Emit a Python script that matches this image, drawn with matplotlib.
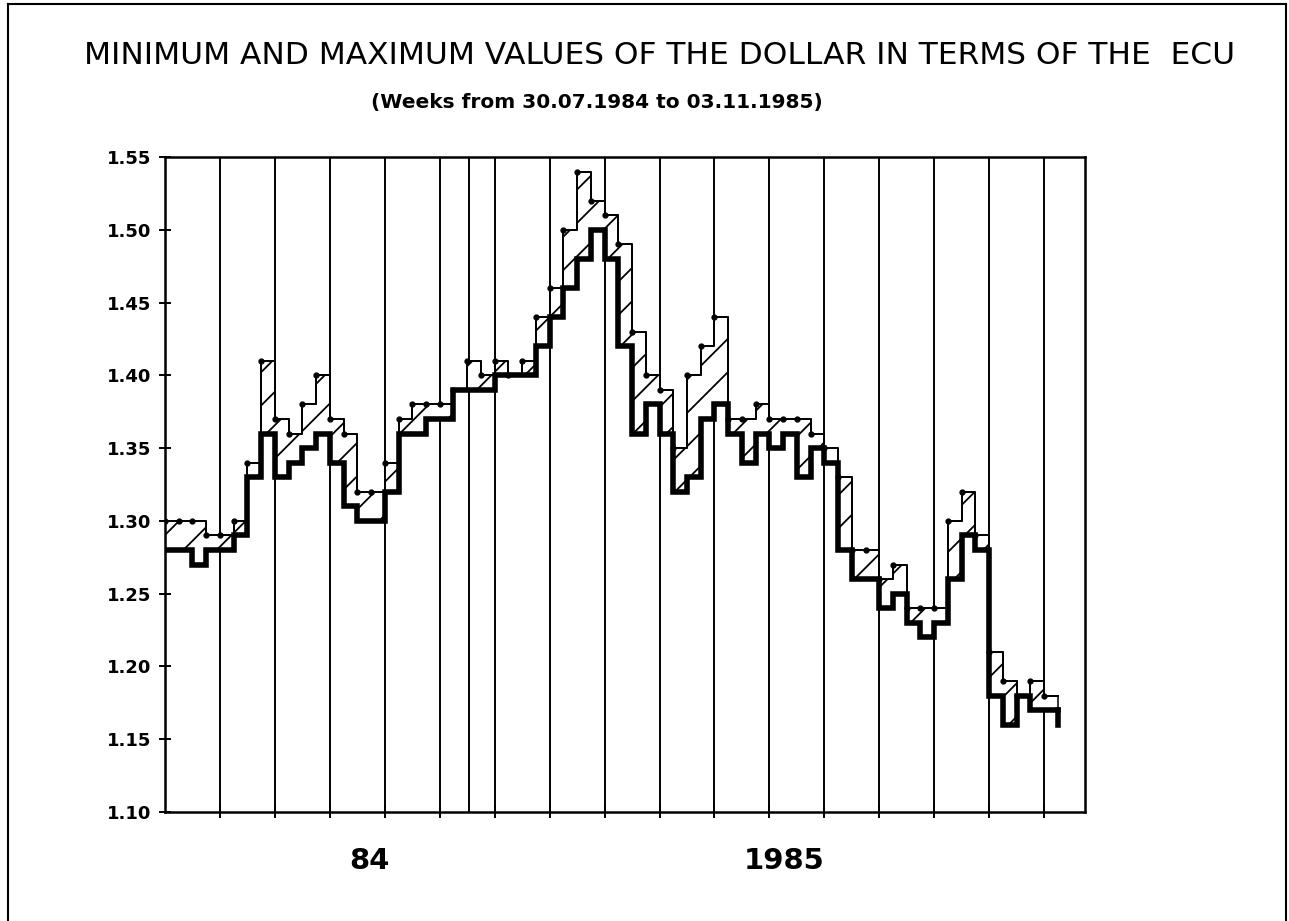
import datetime as dt
import numpy as np
import matplotlib
matplotlib.use('Agg')
import matplotlib.pyplot as plt
from matplotlib.lines import Line2D

# weekly max / min of USD in ECU, weeks starting 30.07.1984
weekly_max = [1.30, 1.30, 1.30, 1.29, 1.29, 1.30, 1.34, 1.41, 1.37, 1.36,
              1.38, 1.40, 1.37, 1.36, 1.32, 1.32, 1.34, 1.37, 1.38, 1.38,
              1.38, 1.39, 1.41, 1.40, 1.41, 1.40, 1.41, 1.44, 1.46, 1.50,
              1.54, 1.52, 1.51, 1.49, 1.43, 1.40, 1.39, 1.35, 1.40, 1.42,
              1.44, 1.37, 1.37, 1.38, 1.37, 1.37, 1.37, 1.36, 1.35, 1.33,
              1.28, 1.28, 1.26, 1.27, 1.24, 1.24, 1.24, 1.30, 1.32, 1.29,
              1.21, 1.19, 1.18, 1.19, 1.18]
weekly_min = [1.28, 1.28, 1.27, 1.28, 1.28, 1.29, 1.33, 1.36, 1.33, 1.34,
              1.35, 1.36, 1.34, 1.31, 1.30, 1.30, 1.32, 1.36, 1.36, 1.37,
              1.37, 1.39, 1.39, 1.39, 1.40, 1.40, 1.40, 1.42, 1.44, 1.46,
              1.48, 1.50, 1.48, 1.42, 1.36, 1.38, 1.36, 1.32, 1.33, 1.37,
              1.38, 1.36, 1.34, 1.36, 1.35, 1.36, 1.33, 1.35, 1.34, 1.28,
              1.26, 1.26, 1.24, 1.25, 1.23, 1.22, 1.23, 1.26, 1.29, 1.28,
              1.18, 1.16, 1.18, 1.17, 1.17]
last_low = 1.16
y_ticks = [1.10, 1.15, 1.20, 1.25, 1.30, 1.35, 1.40, 1.45, 1.50, 1.55]
year_labels = ['84', '1985']
start = dt.date(1984, 7, 30)
year_end_week = (dt.date(1985, 1, 1) - start).days / 7

n = len(weekly_max)
edges = np.arange(n + 1)
hi = np.append(weekly_max, weekly_max[-1])
lo = np.append(weekly_min, weekly_min[-1])

plt.rcParams['hatch.linewidth'] = 1.3
fig = plt.figure(figsize=(12.89, 9.21), dpi=100)
ax = fig.add_axes([0.128, 0.1184, 0.714, 0.7111])

# grid lines every 4 weeks plus the year change
for x in list(range(4, n, 4)) + [year_end_week]:
    ax.axvline(x, color='black', lw=1.4, zorder=1)

ax.fill_between(edges, lo, hi, step='post', facecolor='white',
                edgecolor='black', hatch='/', lw=1.1, zorder=2)
ax.step(edges, hi, where='post', color='black', lw=1.4, zorder=3)
ax.plot(edges[:-1], weekly_max, 'o', color='black', ms=3.5, zorder=4)
ax.step(edges, lo, where='post', color='black', lw=4.0, zorder=5,
        solid_joinstyle='miter')
ax.plot([n, n], [weekly_min[-1], last_low], color='black', lw=4.0, zorder=5)

ax.set_xlim(0, 67)
ax.set_ylim(1.10, 1.55)
ax.set_yticks(y_ticks)
ax.set_yticklabels(['%.2f' % v for v in y_ticks], fontsize=13,
                   fontweight='bold')
ax.set_xticks(list(range(4, n, 4)))
ax.set_xticklabels([])
ax.tick_params(axis='both', direction='inout', length=8, width=1.4)
ax.tick_params(axis='y', pad=6)
for s in ax.spines.values():
    s.set_linewidth(1.8)

ax.text(14.9, -0.075, year_labels[0], transform=ax.get_xaxis_transform(),
        ha='center', va='center', fontsize=21, fontweight='bold')
ax.text(45.1, -0.075, year_labels[1], transform=ax.get_xaxis_transform(),
        ha='center', va='center', fontsize=21, fontweight='bold')

fig.text(0.512, 0.94, 'MINIMUM AND MAXIMUM VALUES OF THE DOLLAR IN TERMS OF THE  ECU',
         ha='center', va='center', fontsize=22.5)
fig.text(0.463, 0.889, '(Weeks from 30.07.1984 to 03.11.1985)',
         ha='center', va='center', fontsize=14.5, fontweight='bold')

# scanned page frame
for xs, ys in [([0.006, 0.006], [0.0, 0.996]), ([0.006, 0.998], [0.996, 0.996]),
               ([0.998, 0.998], [0.0, 0.996])]:
    fig.add_artist(Line2D(xs, ys, color='black', lw=1.5))

fig.savefig('out.png', dpi=100)
